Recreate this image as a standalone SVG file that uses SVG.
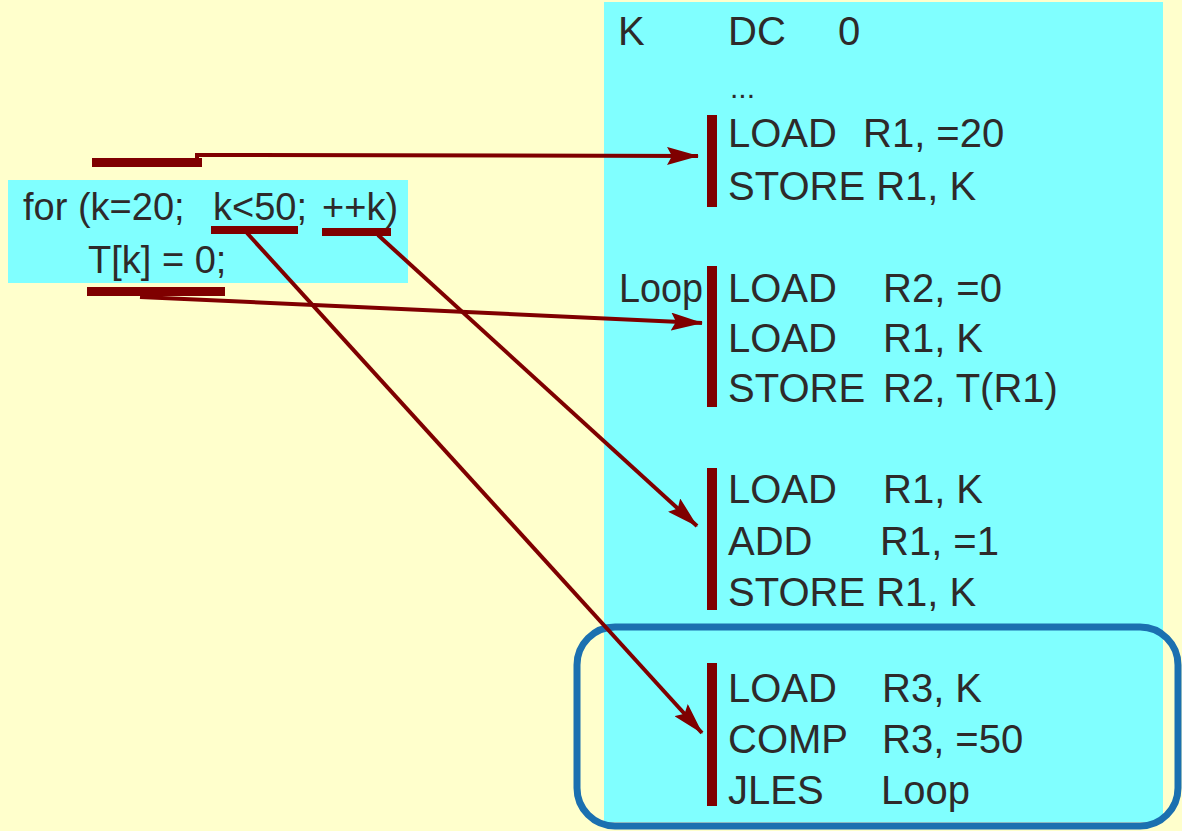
<svg xmlns="http://www.w3.org/2000/svg" width="1182" height="831" viewBox="0 0 1182 831">
<defs>
<style>
.t{font-family:"Liberation Sans",Arial,sans-serif;font-size:40px;fill:#2e2a2a}
.s{font-family:"Liberation Sans",Arial,sans-serif;font-size:38px;fill:#2e2a2a}
.bar{fill:#7f0000}
.ln{fill:none;stroke:#7f0000;stroke-width:4}
</style>
<marker id="ah" viewBox="0 0 32 18" refX="31" refY="9" markerWidth="32" markerHeight="18" markerUnits="userSpaceOnUse" orient="auto">
<path d="M0,0 L32,9 L0,18 L5,9 z" fill="#7f0000"/>
</marker>
</defs>
<rect x="0" y="0" width="1182" height="831" fill="#ffffcc"/>
<g id="asm-panel">
<rect x="604" y="2" width="559" height="820" fill="#80ffff"/>
</g>
<g id="loop-highlight">
<rect x="577" y="627" width="601" height="199" rx="38" ry="38" fill="none" stroke="#1b70b0" stroke-width="7"/>
</g>
<g id="c-code">
<rect x="8" y="180" width="400" height="103" fill="#80ffff"/>
<text class="s" y="220"><tspan x="23">for (k=20;</tspan><tspan x="213">k&lt;50;</tspan><tspan x="322">++k)</tspan></text>
<text class="s" x="88" y="273">T[k] = 0;</text>
</g>
<g id="decl">
<text class="t" x="618" y="45">K</text>
<text class="t" x="728" y="45">DC</text>
<text class="t" x="838" y="45">0</text>
<text class="t" x="730" y="98" style="font-size:30px">...</text>
</g>
<g id="init-block">
<rect class="bar" x="707" y="115" width="10" height="92"/>
<text class="t" x="728" y="147">LOAD</text>
<text class="t" x="863" y="147">R1, =20</text>
<text class="t" x="728" y="200">STORE R1, K</text>
</g>
<g id="body-block">
<text class="t" x="619" y="302" textLength="84" lengthAdjust="spacingAndGlyphs">Loop</text>
<rect class="bar" x="707" y="266" width="10" height="141"/>
<text class="t" x="728" y="302">LOAD</text>
<text class="t" x="883" y="302">R2, =0</text>
<text class="t" x="728" y="352">LOAD</text>
<text class="t" x="883" y="352">R1, K</text>
<text class="t" x="728" y="402">STORE</text>
<text class="t" x="883" y="402">R2, T(R1)</text>
</g>
<g id="incr-block">
<rect class="bar" x="707" y="468" width="10" height="142"/>
<text class="t" x="728" y="503">LOAD</text>
<text class="t" x="883" y="503">R1, K</text>
<text class="t" x="728" y="555">ADD</text>
<text class="t" x="880" y="555">R1, =1</text>
<text class="t" x="728" y="606">STORE R1, K</text>
</g>
<g id="test-block">
<rect class="bar" x="707" y="663" width="10" height="143"/>
<text class="t" x="728" y="702">LOAD</text>
<text class="t" x="882" y="702">R3, K</text>
<text class="t" x="728" y="753">COMP</text>
<text class="t" x="882" y="753">R3, =50</text>
<text class="t" x="728" y="804">JLES</text>
<text class="t" x="881" y="804">Loop</text>
</g>
<g id="connectors">
<rect class="bar" x="92" y="158" width="110" height="9"/>
<path class="ln" d="M197,160 L197,155 L698,156" marker-end="url(#ah)"/>
<rect class="bar" x="87" y="287" width="138" height="9"/>
<path class="ln" d="M140,297 L702,323" stroke-width="3" marker-end="url(#ah)"/>
<rect class="bar" x="211" y="226" width="87" height="8"/>
<path class="ln" d="M247,233 L702,733" marker-end="url(#ah)"/>
<rect class="bar" x="322" y="228" width="69" height="8"/>
<path class="ln" d="M378,235 L697,526" marker-end="url(#ah)"/>
</g>
</svg>
